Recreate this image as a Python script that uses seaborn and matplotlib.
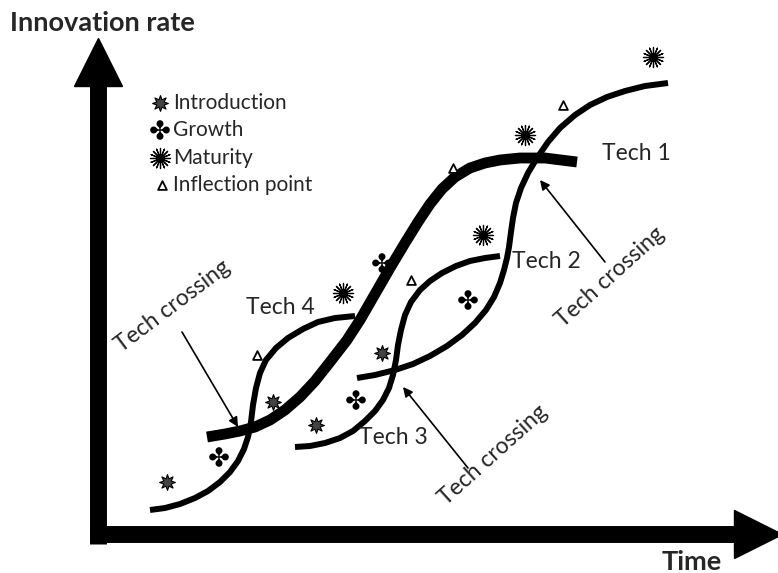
import matplotlib
matplotlib.use("Agg")
import matplotlib.pyplot as plt
import seaborn as sns

# curves, in (time, innovation rate) units
thick_t = [109, 127, 142, 157, 172, 187, 202, 217, 232, 249, 262, 277, 292, 307, 320, 332,
           344, 357, 372, 387, 402, 422, 447, 479]
thick_r = [97, 100, 103, 107, 114, 124, 137, 153, 172, 194, 214, 240, 266, 291, 312, 330,
           345, 357, 366, 371, 374, 376, 376, 372]

left_t = [52, 67, 82, 97, 110, 122, 132, 140, 146, 150, 153, 155, 158, 162, 168, 178, 190,
          205, 220, 237, 257]
left_r = [24, 26, 30, 36, 43, 52, 62, 73, 85, 97, 112, 129, 146, 161, 174, 186, 196,
          205, 212, 216, 218]

mid_t = [197, 212, 227, 242, 255, 267, 277, 285, 291, 295, 298, 300, 303, 307, 313, 322, 332,
         344, 358, 372, 387, 402]
mid_r = [87, 88, 91, 96, 103, 113, 123, 134, 146, 159, 174, 189, 204, 219, 232, 244, 253,
         261, 268, 273, 276, 278]

long_t = [259, 277, 297, 315, 332, 349, 364, 377, 388, 396, 402, 406, 409, 411, 413, 415, 418,
          423, 430, 439, 450, 462, 477, 492, 509, 527, 547, 570]
long_r = [156, 159, 164, 170, 178, 188, 199, 211, 224, 237, 251, 264, 276, 287, 302, 316, 331,
          346, 361, 376, 392, 406, 419, 429, 437, 443, 448, 451]

# stage markers
intro_t = [69, 175, 218, 284]
intro_r = [52, 132, 109, 181]
growth_t = [121, 284, 258, 370]
growth_r = [77, 271, 134, 234]
mature_t = [245, 385, 427, 555]
mature_r = [241, 299, 399, 477]
inflect_t = [159, 313, 355, 465]
inflect_r = [179, 254, 366, 429]

legend_labels = ["Introduction", "Growth", "Maturity", "Inflection point"]
legend_r = [431, 404, 376, 349]

tech_labels = ["Tech 1", "Tech 2", "Tech 3", "Tech 4"]
tech_t = [538, 448, 295, 182]
tech_r = [381, 272, 96, 227]

# tech crossing notes: text centre + angle, arrow tail, arrow head
cross_text = [(75, 228, 37), (512, 257, 42), (395, 79, 42)]
cross_tail = [(84, 202), (507, 272), (370, 66)]
cross_head = [(140, 107), (442, 354), (305, 147)]

sns.set_style("white")
plt.rcParams["font.family"] = ["Lato", "DejaVu Sans"]

fig = plt.figure(figsize=(7.78, 5.73), dpi=100)
ax = fig.add_axes([0, 0, 1, 1])
ax.set_xlim(-98, 680)
ax.set_ylim(-39, 534)
ax.axis("off")

# axes drawn as thick arrows
ax.plot([0, 0], [-10, 448], color="black", lw=12.2, solid_capstyle="butt")
ax.plot([0], [472], marker="^", ms=34.5, color="black")
ax.plot([-8, 642], [0, 0], color="black", lw=12.2, solid_capstyle="butt")
ax.plot([660], [0], marker=">", ms=34.5, color="black")

# s-curves
sns.lineplot(x=thick_t, y=thick_r, sort=False, estimator=None, color="black",
             lw=7.8, solid_capstyle="butt", solid_joinstyle="round", ax=ax)
for ct, cr in [(left_t, left_r), (mid_t, mid_r), (long_t, long_r)]:
    sns.lineplot(x=ct, y=cr, sort=False, estimator=None, color="black",
                 lw=4.3, solid_capstyle="butt", solid_joinstyle="round", ax=ax)


def intro_markers(t, r):
    sns.scatterplot(x=t, y=r, marker=(8, 1, 0), s=130, color="#444444",
                    edgecolor="black", linewidth=0.8, ax=ax, zorder=5)


def growth_markers(t, r):
    sns.scatterplot(x=t, y=r, marker="$\u2724$", s=200, color="black",
                    edgecolor="none", linewidth=0, ax=ax, zorder=5)


def mature_markers(t, r):
    sns.scatterplot(x=t, y=r, marker=(16, 2, 0), s=210, color="black",
                    linewidths=0.9, ax=ax, zorder=5)
    sns.scatterplot(x=t, y=r, marker="o", s=16, color="black",
                    edgecolor="none", ax=ax, zorder=6)


def inflect_markers(t, r):
    sns.scatterplot(x=t, y=r, marker="^", s=40, color="white",
                    edgecolor="black", linewidth=1.3, ax=ax, zorder=5)


intro_markers(intro_t, intro_r)
growth_markers(growth_t, growth_r)
mature_markers(mature_t, mature_r)
inflect_markers(inflect_t, inflect_r)

# hand-made legend
intro_markers([62], [legend_r[0]])
growth_markers([62], [legend_r[1]])
mature_markers([62], [legend_r[2]])
inflect_markers([64], [legend_r[3]])
for lab, lr in zip(legend_labels, legend_r):
    ax.text(75, lr, lab, fontsize=15, ha="left", va="center")

for lab, lt, lr in zip(tech_labels, tech_t, tech_r):
    ax.text(lt, lr, lab, fontsize=16.5, ha="center", va="center")

for (xt, yt, rot), tail, head in zip(cross_text, cross_tail, cross_head):
    ax.text(xt, yt, "Tech crossing", fontsize=16.5, rotation=rot,
            rotation_mode="anchor", ha="center", va="center")
    ax.annotate("", xy=head, xytext=tail,
                arrowprops=dict(arrowstyle="-|>", color="black", lw=1.2,
                                mutation_scale=14, shrinkA=0, shrinkB=0))

ax.text(-88, 511, "Innovation rate", fontsize=19.5, fontweight="bold",
        ha="left", va="center")
ax.text(564, -28, "Time", fontsize=19.5, fontweight="bold",
        ha="left", va="center")

fig.savefig("out.png", dpi=100)
plt.close(fig)
